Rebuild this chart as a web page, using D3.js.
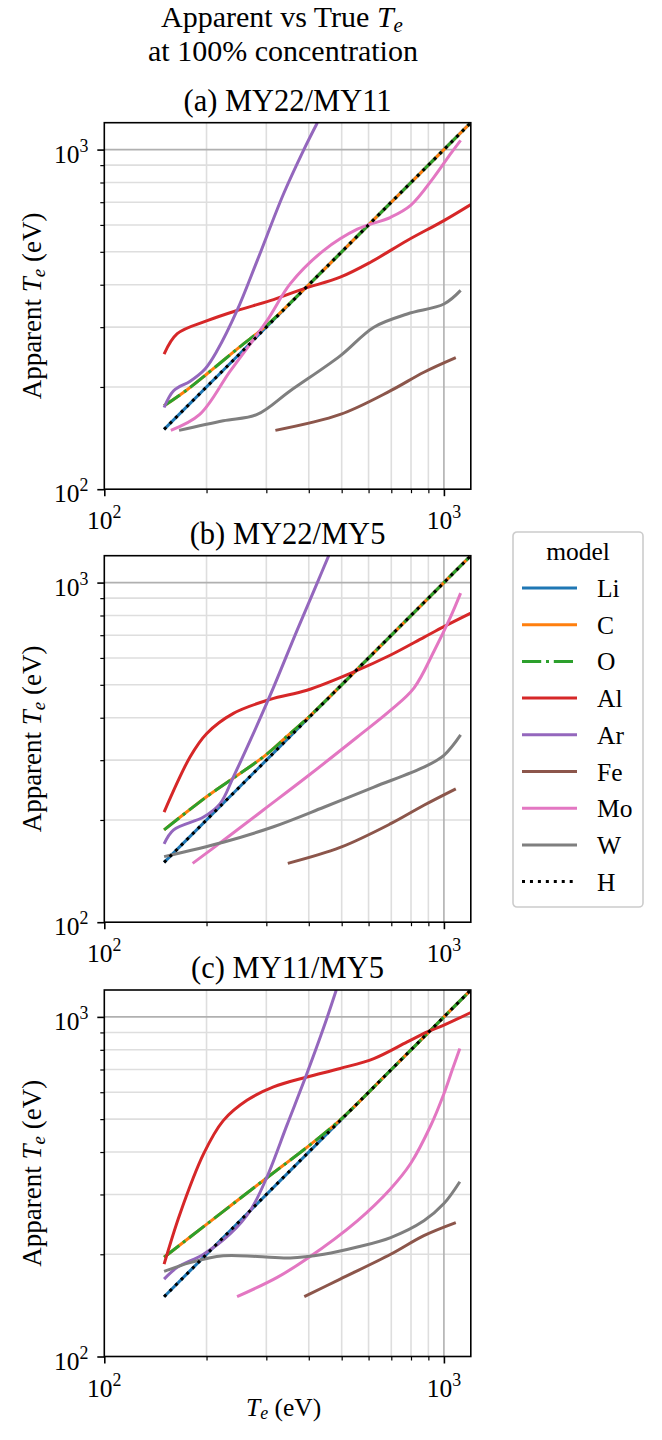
<!DOCTYPE html>
<html>
<head>
<meta charset="utf-8">
<script src="https://cdn.jsdelivr.net/npm/d3@7"></script>
<style>
  body { margin: 0; background: #fff; }
  svg text { font-family: "Liberation Serif", "Times New Roman", serif; fill: #000; }
</style>
</head>
<body>
<svg id="chart" width="662" height="1440"></svg>
<script>
////////////////////////////////////////////////////////////////////////////////
// data  [true Te, apparent Te]  (eV)
////////////////////////////////////////////////////////////////////////////////
var models = ["Li", "C", "O", "Al", "Ar", "Fe", "Mo", "W", "H"];
var panelTitles = ["(a) MY22/MY11", "(b) MY22/MY5", "(c) MY11/MY5"];
var majorTicks = [100, 1000];
var minorTicks = [200, 300, 400, 500, 600, 700, 800, 900];
var tickExp = ["2", "3"];

// Li and H give back the true temperature
var identity = [[150, 150], [1200, 1200]];

// (a) MY22/MY11
var a_CO = [[150, 176], [175, 196], [200, 218], [250, 262], [300, 303], [400, 400], [600, 600], [1000, 1000], [1200, 1200]];
var a_Al = [[150, 250], [164, 287], [200, 313], [246, 336], [308, 359], [386, 389], [495, 421], [608, 466], [780, 540], [1000, 618], [1200, 689]];
var a_Ar = [[150, 174], [160, 195], [179, 208], [198, 226], [215, 256], [246, 336], [282, 471], [337, 740], [386, 995], [424, 1200]];
var a_Fe = [[319, 149], [495, 166], [697, 195], [873, 221], [1084, 244]];
var a_Mo = [[157, 149], [191, 166], [235, 223], [301, 313], [353, 403], [443, 505], [556, 583], [697, 632], [798, 685], [935, 830], [1047, 973], [1120, 1065]];
var a_W = [[166, 149], [224, 159], [282, 166], [353, 195], [495, 247], [622, 300], [780, 328], [1000, 351], [1120, 385]];

// (b) MY22/MY5
var b_CO = [[150, 187], [200, 234], [235, 262], [298, 310], [353, 360], [400, 402], [500, 500], [1000, 1000], [1200, 1200]];
var b_Al = [[150, 211], [179, 307], [200, 359], [240, 412], [308, 453], [395, 482], [543, 546], [697, 612], [873, 690], [1000, 742], [1200, 813]];
var b_Ar = [[150, 170], [160, 187], [196, 204], [219, 223], [240, 268], [269, 343], [308, 466], [370, 726], [424, 1000], [458, 1200]];
var b_Fe = [[347, 149], [495, 166], [697, 195], [873, 221], [1084, 247]];
var b_Mo = [[182, 149], [224, 174], [294, 214], [395, 268], [556, 351], [697, 421], [817, 490], [935, 628], [1047, 794], [1120, 931]];
var b_W = [[150, 156], [224, 172], [315, 191], [443, 218], [622, 250], [873, 286], [1000, 310], [1120, 356]];

// (c) MY11/MY5
var c_CO = [[150, 196], [200, 245], [300, 335], [400, 417], [500, 502], [700, 700], [1000, 1000], [1200, 1200]];
var c_Al = [[150, 187], [167, 263], [196, 395], [224, 495], [263, 568], [315, 622], [395, 665], [495, 705], [622, 754], [780, 844], [893, 903], [1000, 946], [1200, 1030]];
var c_Ar = [[150, 169], [164, 183], [196, 200], [235, 230], [269, 269], [301, 337], [345, 480], [395, 681], [443, 933], [482, 1200]];
var c_Fe = [[388, 150], [495, 169], [697, 200], [873, 227], [1084, 248]];
var c_Mo = [[246, 150], [323, 171], [395, 194], [556, 251], [697, 312], [798, 370], [914, 478], [1000, 594], [1059, 700], [1114, 807]];
var c_W = [[150, 178], [179, 189], [224, 198], [282, 197], [353, 195], [443, 200], [556, 210], [697, 224], [873, 251], [1000, 282], [1114, 327]];

var panelData = [
	[identity, a_CO, a_CO, a_Al, a_Ar, a_Fe, a_Mo, a_W, identity],
	[identity, b_CO, b_CO, b_Al, b_Ar, b_Fe, b_Mo, b_W, identity],
	[identity, c_CO, c_CO, c_Al, c_Ar, c_Fe, c_Mo, c_W, identity]
];

////////////////////////////////////////////////////////////////////////////////
// styles
////////////////////////////////////////////////////////////////////////////////
var colors = ["#1f77b4", "#ff7f0e", "#2ca02c", "#d62728", "#9467bd", "#8c564b", "#e377c2", "#7f7f7f", "#000000"];
var dashes = [null, null, "19.2,4.8,3,4.8", null, null, null, null, null, "3,4.95"];

var axLeft = 104.3, axSize = 366.5;
var panelTops = [122.7, 555.7, 990];
var fsTick = 25.5, fsTitle = 30.5, fsLabel = 27, fsSup = 30;

var svg = d3.select("#chart");

var x = d3.scaleLog().domain([100, 1200]).range([0, axSize]);
var y = d3.scaleLog().domain([100, 1200]).range([axSize, 0]);

var line = d3.line()
	.x(function (d) { return x(d[0]); })
	.y(function (d) { return y(d[1]); })
	.curve(d3.curveCatmullRom.alpha(0.5));

// italic T with subscript e
function addTe(text, size, trail) {
	text.append("tspan").attr("font-style", "italic").text("T");
	text.append("tspan").attr("font-style", "italic").attr("font-size", size * 0.7).attr("dy", size * 0.15).text("e");
	if (trail) text.append("tspan").attr("dy", -size * 0.15).text("\u00a0");
}

// suptitle
var sup = svg.append("text").attr("x", 282).attr("y", 27).attr("text-anchor", "middle").attr("font-size", fsSup);
sup.append("tspan").text("Apparent vs True\u00a0");
addTe(sup, fsSup, false);
svg.append("text").attr("x", 283).attr("y", 61).attr("text-anchor", "middle").attr("font-size", fsSup)
	.text("at 100% concentration");

panelTitles.forEach(function (title, p) {
	var g = svg.append("g").attr("transform", "translate(" + axLeft + "," + panelTops[p] + ")");

	// grid
	var grid = g.append("g");
	grid.selectAll(".gx").data(minorTicks).join("line")
		.attr("x1", function (d) { return x(d); }).attr("x2", function (d) { return x(d); })
		.attr("y1", 0).attr("y2", axSize)
		.attr("stroke", "#dedede").attr("stroke-width", 1.6);
	grid.selectAll(".gy").data(minorTicks).join("line")
		.attr("y1", function (d) { return y(d); }).attr("y2", function (d) { return y(d); })
		.attr("x1", 0).attr("x2", axSize)
		.attr("stroke", "#dedede").attr("stroke-width", 1.6);
	grid.append("line").attr("x1", x(1000)).attr("x2", x(1000)).attr("y1", 0).attr("y2", axSize)
		.attr("stroke", "#b0b0b0").attr("stroke-width", 1.6);
	grid.append("line").attr("y1", y(1000)).attr("y2", y(1000)).attr("x1", 0).attr("x2", axSize)
		.attr("stroke", "#b0b0b0").attr("stroke-width", 1.6);

	// curves
	g.append("clipPath").attr("id", "clip" + p)
		.append("rect").attr("width", axSize).attr("height", axSize);
	var lines = g.append("g").attr("clip-path", "url(#clip" + p + ")");
	panelData[p].forEach(function (series, i) {
		lines.append("path")
			.datum(series)
			.attr("d", line)
			.attr("fill", "none")
			.attr("stroke", colors[i])
			.attr("stroke-width", 3)
			.attr("stroke-dasharray", dashes[i]);
	});

	// axes
	var xMajor = g.append("g").attr("transform", "translate(0," + axSize + ")")
		.call(d3.axisBottom(x).tickValues(majorTicks).tickSize(7).tickFormat(""));
	var xMinor = g.append("g").attr("transform", "translate(0," + axSize + ")")
		.call(d3.axisBottom(x).tickValues(minorTicks).tickSize(4).tickFormat(""));
	var yMajor = g.append("g")
		.call(d3.axisLeft(y).tickValues(majorTicks).tickSize(7).tickFormat(""));
	var yMinor = g.append("g")
		.call(d3.axisLeft(y).tickValues(minorTicks).tickSize(4).tickFormat(""));
	[xMajor, xMinor, yMajor, yMinor].forEach(function (a) {
		a.select(".domain").remove();
		a.selectAll(".tick line").attr("stroke", "#000");
	});
	[xMajor, yMajor].forEach(function (a) { a.selectAll(".tick line").attr("stroke-width", 1.6); });
	[xMinor, yMinor].forEach(function (a) { a.selectAll(".tick line").attr("stroke-width", 1.2); });

	g.append("rect").attr("width", axSize).attr("height", axSize)
		.attr("fill", "none").attr("stroke", "#000").attr("stroke-width", 1.6);

	// tick labels
	majorTicks.forEach(function (v, k) {
		var tx = g.append("text").attr("x", x(v)).attr("y", axSize + 40)
			.attr("text-anchor", "middle").attr("font-size", fsTick);
		tx.append("tspan").text("10");
		tx.append("tspan").attr("font-size", fsTick * 0.7).attr("dy", -11).text(tickExp[k]);
		var ty = g.append("text").attr("x", -16).attr("y", y(v) + 13)
			.attr("text-anchor", "end").attr("font-size", fsTick);
		ty.append("tspan").text("10");
		ty.append("tspan").attr("font-size", fsTick * 0.7).attr("dy", -11).text(tickExp[k]);
	});

	// title
	g.append("text").attr("x", axSize / 2).attr("y", -12)
		.attr("text-anchor", "middle").attr("font-size", fsTitle).text(title);

	// y label
	var yl = g.append("text").attr("transform", "translate(-63," + axSize / 2 + ") rotate(-90)")
		.attr("text-anchor", "middle").attr("font-size", fsLabel);
	yl.append("tspan").text("Apparent ");
	addTe(yl, fsLabel, true);
	yl.append("tspan").text("(eV)");

	if (p === 2) {
		var xl = g.append("text").attr("x", axSize / 2 - 4).attr("y", axSize + 59)
			.attr("text-anchor", "middle").attr("font-size", fsTick);
		addTe(xl, fsTick, true);
		xl.append("tspan").text("(eV)");
	}
});

////////////////////////////////////////////////////////////////////////////////
// legend
////////////////////////////////////////////////////////////////////////////////
var leg = svg.append("g").attr("transform", "translate(513,532)");
leg.append("rect").attr("width", 130).attr("height", 375).attr("rx", 4)
	.attr("fill", "#fff").attr("stroke", "#cccccc").attr("stroke-width", 1.6);
leg.append("text").attr("x", 65).attr("y", 28).attr("text-anchor", "middle")
	.attr("font-size", fsTick).text("model");
models.forEach(function (m, i) {
	var yy = 56 + i * 36.7;
	leg.append("line").attr("x1", 9).attr("x2", 64).attr("y1", yy).attr("y2", yy)
		.attr("stroke", colors[i]).attr("stroke-width", 3)
		.attr("stroke-dasharray", dashes[i]);
	leg.append("text").attr("x", 84).attr("y", yy + 9).attr("font-size", fsTick).text(m);
});
</script>
</body>
</html>
